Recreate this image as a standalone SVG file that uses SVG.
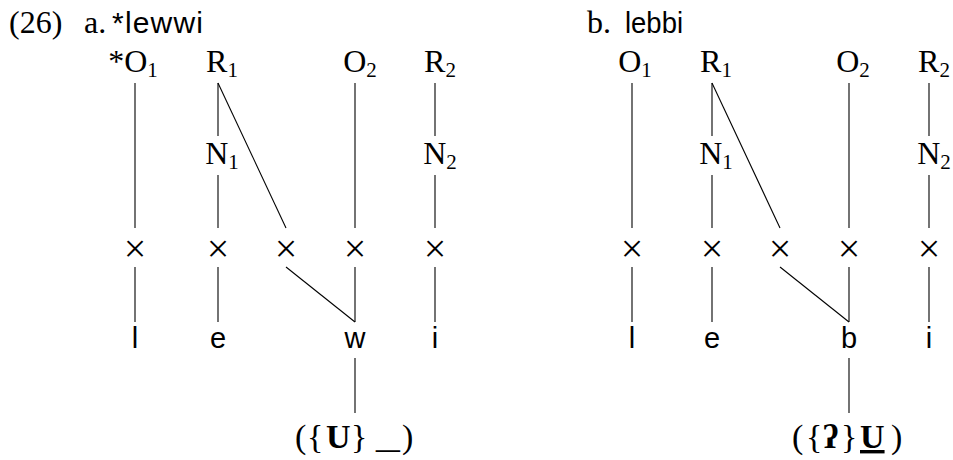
<svg xmlns="http://www.w3.org/2000/svg" width="953" height="460" viewBox="0 0 953 460">
<style>
.m{font-family:"Liberation Serif",serif;font-size:32px;fill:#000;text-anchor:middle}
.sub{font-size:21px}
.s{font-family:"Liberation Sans",sans-serif;font-size:29px;fill:#000;text-anchor:middle}
.x{font-family:"Liberation Serif",serif;font-size:40px;fill:#000;text-anchor:middle;dominant-baseline:central}
.t{font-family:"Liberation Serif",serif;font-size:32px;fill:#000}
.ts{font-family:"Liberation Sans",sans-serif;font-size:30px;fill:#000}
.b{font-family:"Liberation Serif",serif;font-size:34px;fill:#000}
.bb{font-weight:bold}
line{stroke:#000;stroke-width:1.1}
</style>
<rect width="953" height="460" fill="#fff"/>
<g id="title">
<text class="t" x="9" y="33">(26)</text>
<text class="t" x="84" y="33">a.</text>
<text class="ts" x="112" y="33" textLength="91" lengthAdjust="spacing">*lewwi</text>
<text class="t" x="587" y="33">b.</text>
<text class="ts" x="625" y="33" textLength="58" lengthAdjust="spacingAndGlyphs">lebbi</text>
</g>
<g id="connectors">
<line x1="135" y1="83" x2="135" y2="228"/>
<line x1="218" y1="83" x2="218" y2="136"/>
<line x1="218" y1="175" x2="218" y2="228"/>
<line x1="218" y1="83" x2="286" y2="228"/>
<line x1="355" y1="83" x2="355" y2="228"/>
<line x1="435" y1="83" x2="435" y2="136"/>
<line x1="435" y1="175" x2="435" y2="228"/>
<line x1="135" y1="267" x2="135" y2="322"/>
<line x1="218" y1="267" x2="218" y2="322"/>
<line x1="286" y1="267" x2="355" y2="322"/>
<line x1="355" y1="267" x2="355" y2="322"/>
<line x1="435" y1="267" x2="435" y2="322"/>
<line x1="355" y1="358" x2="355" y2="413"/>
<line x1="632" y1="83" x2="632" y2="228"/>
<line x1="712" y1="83" x2="712" y2="136"/>
<line x1="712" y1="175" x2="712" y2="228"/>
<line x1="712" y1="83" x2="780" y2="228"/>
<line x1="849" y1="83" x2="849" y2="228"/>
<line x1="929" y1="83" x2="929" y2="136"/>
<line x1="929" y1="175" x2="929" y2="228"/>
<line x1="632" y1="267" x2="632" y2="322"/>
<line x1="712" y1="267" x2="712" y2="322"/>
<line x1="780" y1="267" x2="849" y2="322"/>
<line x1="849" y1="267" x2="849" y2="322"/>
<line x1="929" y1="267" x2="929" y2="322"/>
<line x1="849" y1="358" x2="849" y2="413"/>
</g>
<g id="a-O1"><text class="m" x="133" y="72">*O<tspan class="sub" dy="5">1</tspan></text></g>
<g id="a-R1"><text class="m" x="222" y="72">R<tspan class="sub" dy="5">1</tspan></text></g>
<g id="a-O2"><text class="m" x="360" y="72">O<tspan class="sub" dy="5">2</tspan></text></g>
<g id="a-R2"><text class="m" x="440" y="72">R<tspan class="sub" dy="5">2</tspan></text></g>
<g id="a-N1"><text class="m" x="222" y="164">N<tspan class="sub" dy="5">1</tspan></text></g>
<g id="a-N2"><text class="m" x="440" y="164">N<tspan class="sub" dy="5">2</tspan></text></g>
<g id="a-x1"><text class="x" x="135" y="248">×</text></g>
<g id="a-x2"><text class="x" x="218" y="248">×</text></g>
<g id="a-x3"><text class="x" x="286" y="248">×</text></g>
<g id="a-x4"><text class="x" x="355" y="248">×</text></g>
<g id="a-x5"><text class="x" x="435" y="248">×</text></g>
<g id="a-l"><text class="s" x="135" y="348">l</text></g>
<g id="a-e"><text class="s" x="218" y="348">e</text></g>
<g id="a-w"><text class="s" x="355" y="348">w</text></g>
<g id="a-i"><text class="s" x="435" y="348">i</text></g>
<g id="a-env"><text class="b" y="448"><tspan x="295">(</tspan><tspan x="307">{</tspan><tspan x="326" class="bb">U</tspan><tspan x="351">}</tspan><tspan x="402">)</tspan></text><text class="b" transform="translate(376,448) scale(1.4,1)">_</text></g>
<g id="b-O1"><text class="m" x="635" y="72">O<tspan class="sub" dy="5">1</tspan></text></g>
<g id="b-R1"><text class="m" x="716" y="72">R<tspan class="sub" dy="5">1</tspan></text></g>
<g id="b-O2"><text class="m" x="853" y="72">O<tspan class="sub" dy="5">2</tspan></text></g>
<g id="b-R2"><text class="m" x="934" y="72">R<tspan class="sub" dy="5">2</tspan></text></g>
<g id="b-N1"><text class="m" x="716" y="164">N<tspan class="sub" dy="5">1</tspan></text></g>
<g id="b-N2"><text class="m" x="934" y="164">N<tspan class="sub" dy="5">2</tspan></text></g>
<g id="b-x1"><text class="x" x="632" y="248">×</text></g>
<g id="b-x2"><text class="x" x="712" y="248">×</text></g>
<g id="b-x3"><text class="x" x="780" y="248">×</text></g>
<g id="b-x4"><text class="x" x="849" y="248">×</text></g>
<g id="b-x5"><text class="x" x="929" y="248">×</text></g>
<g id="b-l"><text class="s" x="632" y="348">l</text></g>
<g id="b-e"><text class="s" x="712" y="348">e</text></g>
<g id="b-b"><text class="s" x="849" y="348">b</text></g>
<g id="b-i"><text class="s" x="929" y="348">i</text></g>
<g id="b-env"><text class="b" y="448"><tspan x="792">(</tspan><tspan x="806">{</tspan><tspan x="823" class="bb">ʔ</tspan><tspan x="841">}</tspan><tspan x="860" class="bb" text-decoration="underline">U</tspan><tspan x="891">)</tspan></text></g>
</svg>
